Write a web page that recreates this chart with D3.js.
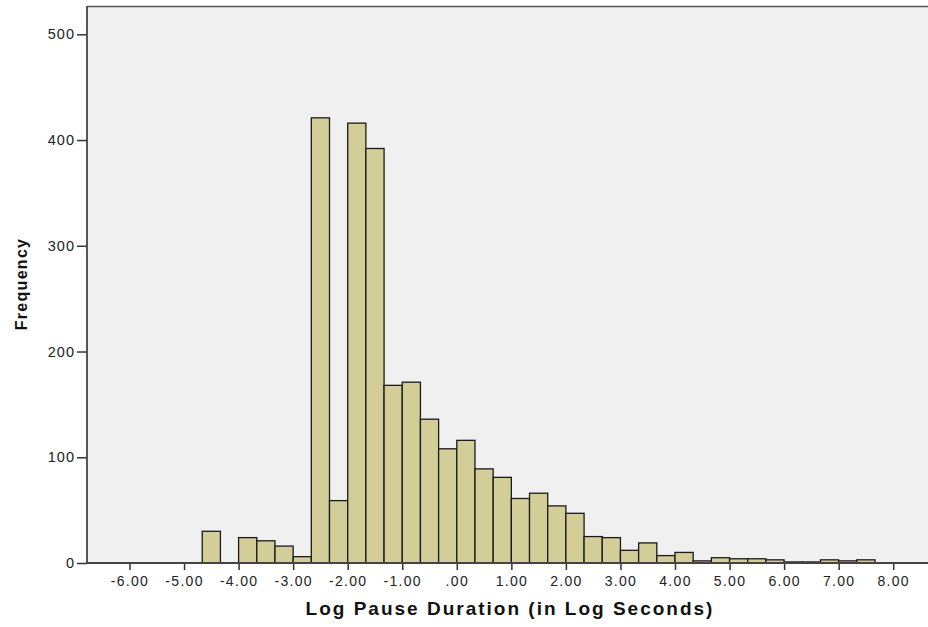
<!DOCTYPE html>
<html>
<head>
<meta charset="utf-8">
<script src="https://cdn.jsdelivr.net/npm/d3@7"></script>
<style>
  html, body { margin: 0; padding: 0; background: #ffffff; }
  svg { display: block; font-family: "Liberation Sans", Arial, sans-serif; }
</style>
</head>
<body>
<svg id="chart" width="928" height="627"></svg>
<script>
// Histogram bins: lower edge of each bin (log seconds), bin width 1/3
const binWidth = 1 / 3;
const binStarts = [
  -14, -13, -12, -11, -10, -9, -8, -7, -6, -5,
  -4, -3, -2, -1, 0, 1, 2, 3, 4, 5,
  6, 7, 8, 9, 10, 11, 12, 13, 14, 15,
  16, 17, 18, 19, 20, 21, 22
].map(k => k / 3);
const frequencies = [
  30, 0, 24, 21, 16, 6, 421, 59, 416, 392,
  168, 171, 136, 108, 116, 89, 81, 61, 66, 54,
  47, 25, 24, 12, 19, 7, 10, 2, 5, 4,
  4, 3, 1, 1, 3, 2, 3
];
const xTicks = [-6, -5, -4, -3, -2, -1, 0, 1, 2, 3, 4, 5, 6, 7, 8];
const xTickLabels = ["-6.00", "-5.00", "-4.00", "-3.00", "-2.00", "-1.00", ".00",
  "1.00", "2.00", "3.00", "4.00", "5.00", "6.00", "7.00", "8.00"];
const yTicks = [0, 100, 200, 300, 400, 500];

const svg = d3.select("#chart");
const plot = { left: 87, top: 6, right: 940, bottom: 563 };

const x = d3.scaleLinear()
  .domain([-6, 8])
  .range([129.5, 893.2]);
const y = d3.scaleLinear()
  .domain([0, 500])
  .range([plot.bottom, 34.3]);

// plot background
svg.append("rect")
  .attr("x", plot.left).attr("y", plot.top)
  .attr("width", plot.right - plot.left).attr("height", plot.bottom - plot.top)
  .attr("fill", "#f0f0f0");

// bars
const data = binStarts.map((s, i) => ({ x0: s, x1: s + binWidth, n: frequencies[i] }));
svg.append("g")
  .selectAll("rect")
  .data(data.filter(d => d.n > 0))
  .join("rect")
  .attr("x", d => x(d.x0))
  .attr("y", d => y(d.n))
  .attr("width", d => x(d.x1) - x(d.x0))
  .attr("height", d => y(0) - y(d.n))
  .attr("fill", "#d3ce97")
  .attr("stroke", "#1a1a1a")
  .attr("stroke-width", 1.3);

// frame: top edge
svg.append("line")
  .attr("x1", plot.left).attr("x2", plot.right)
  .attr("y1", plot.top + 0.5).attr("y2", plot.top + 0.5)
  .attr("stroke", "#555").attr("stroke-width", 1.5);

// y axis
const yAxis = d3.axisLeft(y)
  .tickValues(yTicks)
  .tickSize(10)
  .tickPadding(2)
  .tickFormat(d3.format("d"));
const gy = svg.append("g")
  .attr("transform", `translate(${plot.left},0)`)
  .call(yAxis);
gy.select(".domain").remove();
gy.append("line")
  .attr("x1", 0).attr("x2", 0)
  .attr("y1", plot.top).attr("y2", plot.bottom)
  .attr("stroke", "#444").attr("stroke-width", 1.8);
gy.selectAll(".tick line").attr("stroke", "#333").attr("stroke-width", 1.5);
gy.selectAll(".tick text")
  .attr("fill", "#222")
  .style("font-size", "14.5px")
  .style("letter-spacing", "1px");

// x axis
const xAxis = d3.axisBottom(x)
  .tickValues(xTicks)
  .tickSize(7)
  .tickPadding(6)
  .tickFormat((d, i) => xTickLabels[i]);
const gx = svg.append("g")
  .attr("transform", `translate(0,${plot.bottom})`)
  .call(xAxis);
gx.select(".domain").remove();
gx.append("line")
  .attr("x1", plot.left).attr("x2", plot.right)
  .attr("y1", 0).attr("y2", 0)
  .attr("stroke", "#444").attr("stroke-width", 1.8);
gx.selectAll(".tick line").attr("stroke", "#333").attr("stroke-width", 1.5);
gx.selectAll(".tick text")
  .attr("fill", "#222")
  .style("font-size", "14px")
  .style("letter-spacing", "1.3px");

// axis titles
svg.append("text")
  .attr("x", 510).attr("y", 615)
  .attr("text-anchor", "middle")
  .attr("fill", "#111")
  .style("font-weight", "bold")
  .style("font-size", "19px")
  .style("letter-spacing", "2px")
  .text("Log Pause Duration (in Log Seconds)");

svg.append("text")
  .attr("transform", "translate(27,284) rotate(-90)")
  .attr("text-anchor", "middle")
  .attr("fill", "#111")
  .style("font-weight", "bold")
  .style("font-size", "16px")
  .style("letter-spacing", "1.3px")
  .text("Frequency");
</script>
</body>
</html>
